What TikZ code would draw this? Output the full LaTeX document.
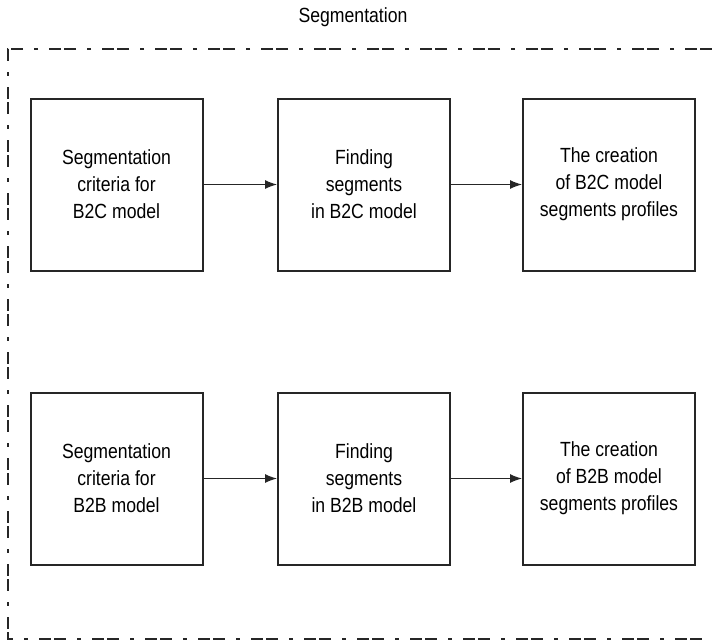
\documentclass[tikz,border=0pt]{standalone}
\usepackage{fontspec}
\setmainfont[FakeStretch=0.86]{Liberation Sans}
\usetikzlibrary{arrows.meta}
\begin{document}
\begin{tikzpicture}[x=1pt,y=-1pt,
  stepbox/.style={draw=black!85,line width=2pt,minimum width=172pt,minimum height=172pt,align=center,font=\fontsize{20.5}{27}\selectfont},
  flow/.style={-{Latex[length=12pt,width=9pt]},line width=1.2pt,black!85}]
\useasboundingbox (0,0) rectangle (712,643);
\draw [black!85,line width=2pt,dash pattern=on 12pt off 3pt on 12pt off 11pt on 4pt off 11pt] (712,49) -- (8,49) -- (8,639) -- (712,639);
\node [font=\fontsize{20.5}{27}\selectfont] (title) at (353,17) {Segmentation};
\node [stepbox] (critb2c) at (116.5,184.5) {Segmentation\\criteria for\\B2C model};
\node [stepbox] (findb2c) at (364,184.5) {Finding\\segments\\in B2C model};
\node [stepbox] (profb2c) at (609,184.5) {The creation\\of B2C model\\segments profiles};
\node [stepbox] (critb2b) at (116.5,478.5) {Segmentation\\criteria for\\B2B model};
\node [stepbox] (findb2b) at (364,478.5) {Finding\\segments\\in B2B model};
\node [stepbox] (profb2b) at (609,478.5) {The creation\\of B2B model\\segments profiles};
\draw [flow] (critb2c) -- (findb2c);
\draw [flow] (findb2c) -- (profb2c);
\draw [flow] (critb2b) -- (findb2b);
\draw [flow] (findb2b) -- (profb2b);
\end{tikzpicture}
\end{document}
